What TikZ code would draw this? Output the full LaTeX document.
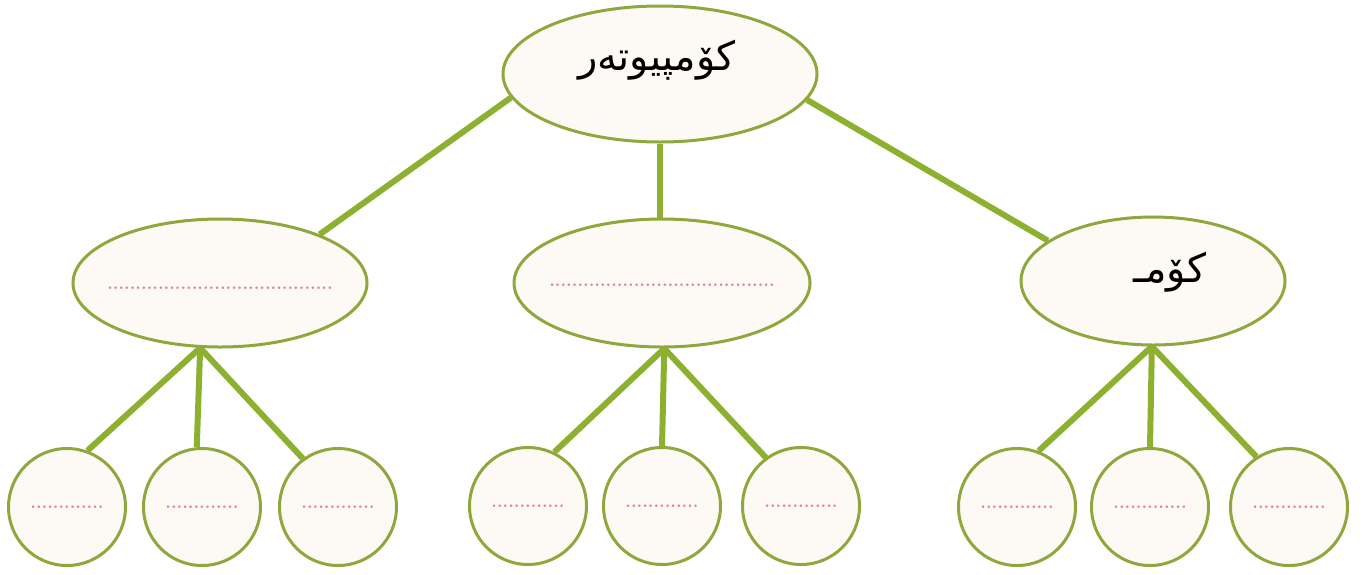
\documentclass[tikz,border=0pt]{standalone}
\usepackage{fontspec}
\usetikzlibrary{shapes.geometric}
\TeXXeTstate=1
\newfontfamily\arabicfont[Script=Arabic]{DejaVu Sans}
\definecolor{outl}{RGB}{143,168,62}
\definecolor{conn}{RGB}{141,176,48}
\definecolor{cream}{RGB}{253,250,245}
\definecolor{dotpink}{RGB}{222,130,150}
\pgfdeclarelayer{background}
\pgfsetlayers{background,main}
\tikzset{
  bigell/.style={ellipse, draw=outl, fill=cream, line width=3pt, inner sep=0pt},
  leaf/.style={circle, draw=outl, fill=cream, line width=3pt, inner sep=0pt, minimum size=117pt,
    text=dotpink, font=\fontsize{18}{20}\selectfont\bfseries},
  dotsel/.style={text=dotpink, font=\fontsize{18}{20}\selectfont\bfseries},
  conline/.style={draw=conn, line width=6pt},
  artext/.style={inner sep=0pt, font=\arabicfont\fontsize{40}{46}\selectfont}
}
\begin{document}
\begin{tikzpicture}[x=1pt,y=-1pt]
\useasboundingbox (0,0) rectangle (1364,574);
% main nodes
\node[bigell, minimum width=314pt, minimum height=136pt] (top) at (660,74) {};
\node[artext] (toptext) at (657,60) {\beginR کۆمپیوتەر\endR};
\node[bigell, minimum width=294pt, minimum height=128pt, dotsel] (ml) at (220,283) {\makebox[0pt]{\smash{\raisebox{-6pt}{........................................}}}};
\node[bigell, minimum width=296pt, minimum height=128pt, dotsel] (mc) at (662,283) {\makebox[0pt]{\smash{\raisebox{-3pt}{........................................}}}};
\node[bigell, minimum width=264pt, minimum height=128pt] (mr) at (1153,281) {};
\node[artext] (mrtext) at (1170,272) {\beginR کۆمـ\endR};
% leaves
\node[leaf] (l1) at (67,507) {.............};
\node[leaf] (l2) at (202,507) {.............};
\node[leaf] (l3) at (338,507) {.............};
\node[leaf] (m1) at (528,506) {.............};
\node[leaf] (m2) at (662,506) {.............};
\node[leaf] (m3) at (801,506) {.............};
\node[leaf] (r1) at (1017,507) {.............};
\node[leaf] (r2) at (1150,507) {.............};
\node[leaf] (r3) at (1289,507) {.............};
% connectors
\begin{pgfonlayer}{background}
\draw[conline] (top.189.5) -- (ml.26.6);
\draw[conline] (top.south) -- (top.south |- mc.north);
\draw[conline] (top.-10) -- (mr.159.6);
\draw[conline] (ml.253) -- (l1.70);
\draw[conline] (ml.253) -- (l2.95);
\draw[conline] (ml.253) -- (l3.126);
\draw[conline] (mc.272.6) -- (m1.64);
\draw[conline] (mc.272.6) -- (m2.90);
\draw[conline] (mc.272.6) -- (m3.126);
\draw[conline] (mr.269) -- (r1.69);
\draw[conline] (mr.269) -- (r2.90);
\draw[conline] (mr.269) -- (r3.123);
\end{pgfonlayer}
\end{tikzpicture}
\end{document}
